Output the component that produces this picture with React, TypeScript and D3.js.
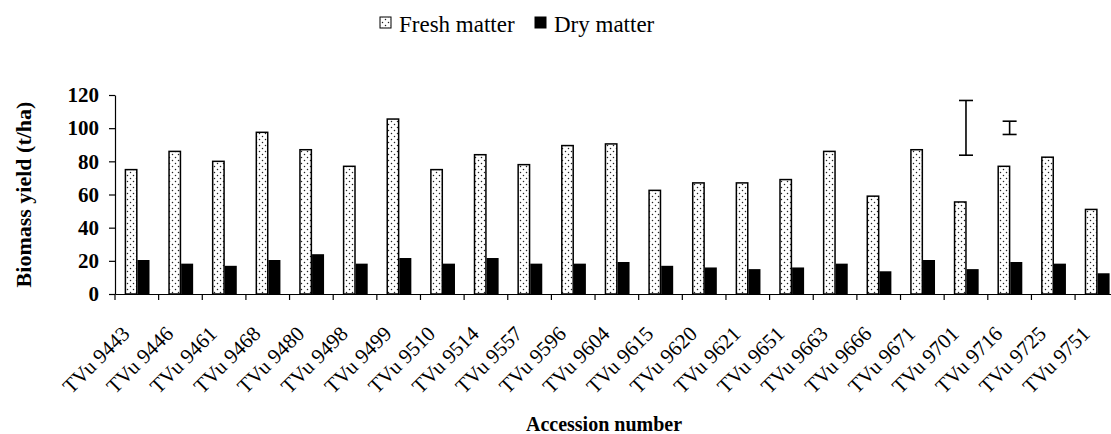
import { useRef, useEffect } from 'react'
import { select, scaleBand, scaleLinear, axisBottom, axisLeft } from 'd3'

const accessions = [
  'TVu 9443', 'TVu 9446', 'TVu 9461', 'TVu 9468', 'TVu 9480', 'TVu 9498',
  'TVu 9499', 'TVu 9510', 'TVu 9514', 'TVu 9557', 'TVu 9596', 'TVu 9604',
  'TVu 9615', 'TVu 9620', 'TVu 9621', 'TVu 9651', 'TVu 9663', 'TVu 9666',
  'TVu 9671', 'TVu 9701', 'TVu 9716', 'TVu 9725', 'TVu 9751'
]
const freshMatter = [75, 86, 80, 97.5, 87, 77, 105.5, 75, 84, 78, 89.5, 90.5, 62.5, 67, 67, 69, 86, 59, 87, 55.5, 77, 82.5, 51]
const dryMatter = [20.5, 18.3, 17, 20.5, 24, 18.3, 21.7, 18.3, 21.7, 18.3, 18.3, 19.3, 17, 16, 15, 16, 18.3, 13.7, 20.5, 15, 19.3, 18.3, 12.5]
const yTicks = [0, 20, 40, 60, 80, 100, 120]

// LSD bars, drawn over two of the categories
const lsdAt = ['TVu 9701', 'TVu 9716']
const lsdMid = [100.2, 100.2]
const lsdHalf = [16.5, 4]

const legendLabels = ['Fresh matter', 'Dry matter']

const W = 1111
const H = 434
const left = 115
const bandW = 43.64
const y0 = 294
const yTop = 95
const serif = 'Liberation Serif, Tinos, Times New Roman, Times, DejaVu Serif, serif'

const App = () => {
  const svgRef = useRef<SVGSVGElement>(null)

  useEffect(() => {
    const svg = select(svgRef.current)
    svg.selectAll('*').remove()

    const x = scaleBand().domain(accessions).range([left, left + bandW * accessions.length]).padding(0)
    const y = scaleLinear().domain([0, 120]).range([y0, yTop])

    const defs = svg.append('defs')
    const pat = defs.append('pattern')
      .attr('id', 'dots')
      .attr('patternUnits', 'userSpaceOnUse')
      .attr('width', 6)
      .attr('height', 6)
    pat.append('rect').attr('width', 6).attr('height', 6).attr('fill', '#fff')
    pat.append('circle').attr('cx', 1.5).attr('cy', 1.5).attr('r', 0.75).attr('fill', '#222')
    pat.append('circle').attr('cx', 4.5).attr('cy', 4.5).attr('r', 0.75).attr('fill', '#222')

    // bars
    svg.append('g').selectAll('rect')
      .data(freshMatter)
      .join('rect')
      .attr('x', (d, i) => (x(accessions[i]) as number) + 10.4)
      .attr('y', d => y(d))
      .attr('width', 11.4)
      .attr('height', d => y0 - y(d))
      .attr('fill', 'url(#dots)')
      .attr('stroke', '#000')
      .attr('stroke-width', 1.5)

    svg.append('g').selectAll('rect')
      .data(dryMatter)
      .join('rect')
      .attr('x', (d, i) => (x(accessions[i]) as number) + 22.5)
      .attr('y', d => y(d))
      .attr('width', 12)
      .attr('height', d => y0 - y(d))
      .attr('fill', '#000')

    // axes
    const xAxis = svg.append('g')
      .attr('transform', `translate(0,${y0})`)
      .call(axisBottom(x).tickSize(6).tickSizeOuter(0).tickFormat(() => ''))
    xAxis.selectAll('.tick').attr('transform', d => `translate(${x(d as string)},0)`)
    xAxis.selectAll('.tick line').attr('stroke-width', 1.2)
    xAxis.select('.domain').attr('stroke-width', 1.2)

    const gx = svg.append('g')
    gx.selectAll('text')
      .data(accessions)
      .join('text')
      .attr('transform', d => `translate(${(x(d) as number) + 16},335) rotate(-45)`)
      .attr('text-anchor', 'end')
      .style('font-family', serif)
      .attr('font-size', 21)
      .text(d => d)

    const yAxis = svg.append('g')
      .attr('transform', `translate(${left},0)`)
      .call(axisLeft(y).tickValues(yTicks).tickSize(6).tickSizeOuter(0))
    yAxis.select('.domain').attr('stroke-width', 1.2)
    yAxis.selectAll('.tick line').attr('stroke-width', 1.2)
    yAxis.selectAll('.tick text')
      .attr('x', -16)
      .style('font-family', serif)
      .attr('font-weight', 'bold')
      .attr('font-size', 21)
      .attr('fill', '#000')

    // LSD bars
    const lsd = svg.append('g').attr('stroke', '#000').attr('stroke-width', 1.6)
    lsdAt.forEach((c, i) => {
      const cx = (x(c) as number) + bandW / 2
      const lo = y(lsdMid[i] - lsdHalf[i])
      const hi = y(lsdMid[i] + lsdHalf[i])
      lsd.append('line').attr('x1', cx).attr('x2', cx).attr('y1', lo).attr('y2', hi)
      lsd.append('line').attr('x1', cx - 7).attr('x2', cx + 7).attr('y1', lo).attr('y2', lo)
      lsd.append('line').attr('x1', cx - 7).attr('x2', cx + 7).attr('y1', hi).attr('y2', hi)
    })

    // axis titles
    svg.append('text')
      .attr('transform', `translate(31,${(y0 + yTop) / 2}) rotate(-90)`)
      .attr('text-anchor', 'middle')
      .style('font-family', serif)
      .attr('font-weight', 'bold')
      .attr('font-size', 22)
      .text('Biomass yield (t/ha)')

    svg.append('text')
      .attr('x', 604)
      .attr('y', 431)
      .attr('text-anchor', 'middle')
      .style('font-family', serif)
      .attr('font-weight', 'bold')
      .attr('font-size', 20)
      .text('Accession number')

    // legend
    const lg = svg.append('g')
    const itemX = [380, 535]
    legendLabels.forEach((name, i) => {
      lg.append('rect')
        .attr('x', itemX[i])
        .attr('y', 17)
        .attr('width', 11)
        .attr('height', 11)
        .attr('fill', i === 0 ? 'url(#dots)' : '#000')
        .attr('stroke', '#000')
        .attr('stroke-width', 1)
      lg.append('text')
        .attr('x', itemX[i] + 19)
        .attr('y', 32)
        .style('font-family', serif)
        .attr('font-size', 23)
        .text(name)
    })
  }, [])

  return (
    <svg ref={svgRef} width={W} height={H} style={{ position: 'absolute', left: 0, top: 0, background: '#fff' }} />
  )
}

export default App
